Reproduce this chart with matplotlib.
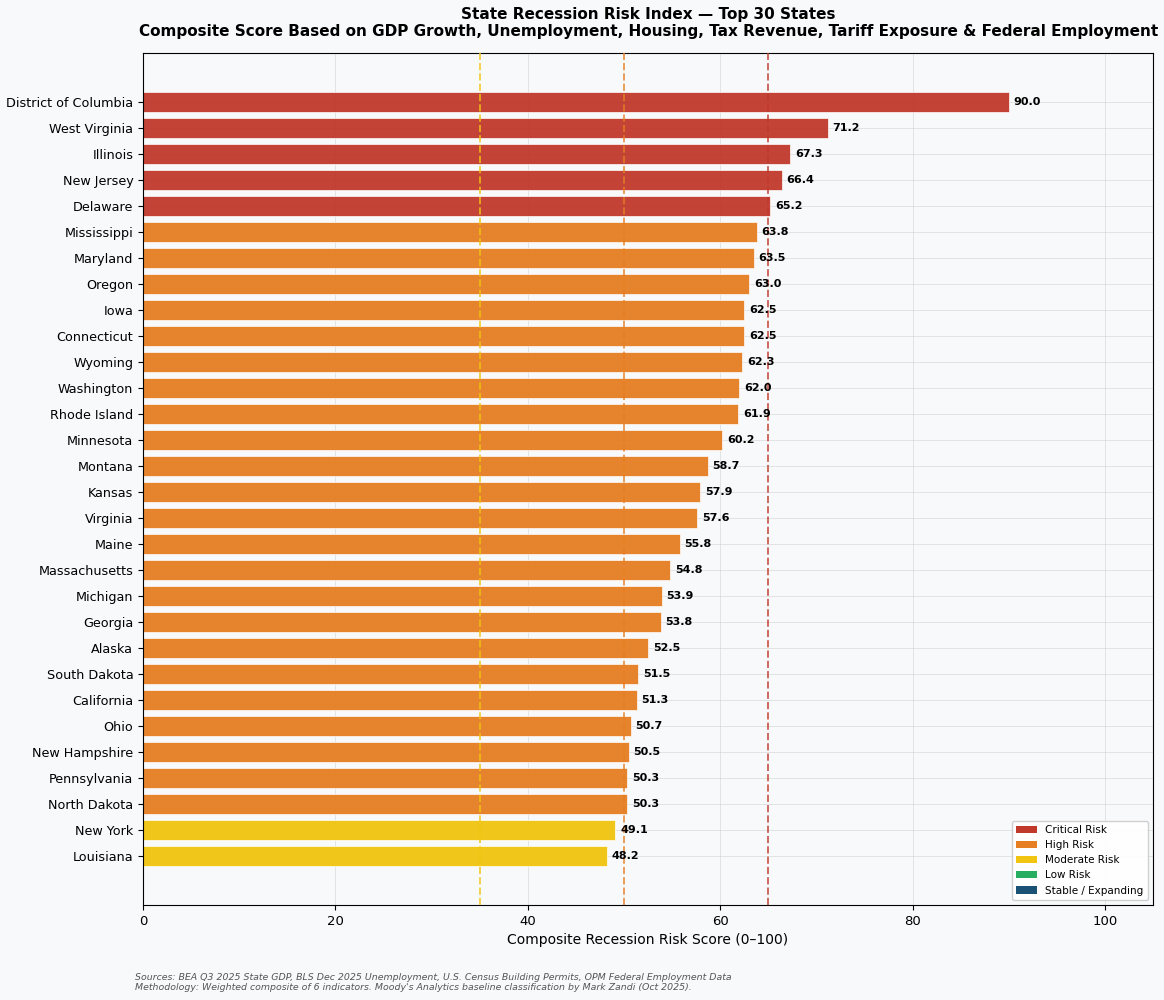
import matplotlib
matplotlib.use("Agg")
import matplotlib.pyplot as plt
from matplotlib.patches import Patch

# Data
states = ["District of Columbia", "West Virginia", "Illinois", "New Jersey", "Delaware",
          "Mississippi", "Maryland", "Oregon", "Iowa", "Connecticut", "Wyoming",
          "Washington", "Rhode Island", "Minnesota", "Montana", "Kansas", "Virginia",
          "Maine", "Massachusetts", "Michigan", "Georgia", "Alaska", "South Dakota",
          "California", "Ohio", "New Hampshire", "Pennsylvania", "North Dakota",
          "New York", "Louisiana"]
scores = [90.0, 71.2, 67.3, 66.4, 65.2, 63.8, 63.5, 63.0, 62.5, 62.5, 62.3, 62.0,
          61.9, 60.2, 58.7, 57.9, 57.6, 55.8, 54.8, 53.9, 53.8, 52.5, 51.5, 51.3,
          50.7, 50.5, 50.3, 50.3, 49.1, 48.2]
categories = ["Critical Risk", "High Risk", "Moderate Risk", "Low Risk", "Stable / Expanding"]
cat_colors = ["#c0392b", "#e67e22", "#f1c40f", "#27ae60", "#1a5276"]
thresholds = [35, 50, 65]
threshold_colors = ["#f1c40f", "#e67e22", "#c0392b"]


def risk_color(s):
    if s >= 65:
        return cat_colors[0]
    elif s >= 50:
        return cat_colors[1]
    elif s >= 35:
        return cat_colors[2]
    elif s >= 20:
        return cat_colors[3]
    return cat_colors[4]


bg = "#f8f9fa"
fig = plt.figure(figsize=(11.64, 10), dpi=100, facecolor=bg)
ax = fig.add_axes([0.1229, 0.095, 0.8677, 0.852])
ax.set_facecolor(bg)

ypos = list(range(len(states)))
bars = ax.barh(ypos, scores, height=0.75, color=[risk_color(s) for s in scores],
               edgecolor="white", linewidth=0.5, alpha=0.95, zorder=2)

for y, s in zip(ypos, scores):
    ax.text(s + 0.5, y, f"{s:.1f}", va="center", ha="left", fontsize=8,
            fontweight="bold", color="black", zorder=4)

for t, c in zip(thresholds, threshold_colors):
    ax.axvline(t, color=c, linestyle="--", linewidth=1.4, alpha=0.75, zorder=3)

ax.set_yticks(ypos)
ax.set_yticklabels(states, fontsize=9.2)
ax.set_ylim(30.88, -1.88)
ax.set_xlim(0, 105)
ax.tick_params(axis="x", labelsize=9.5)
ax.set_xlabel("Composite Recession Risk Score (0\u2013100)", fontsize=10)
ax.grid(True, color="#cccccc", linewidth=0.7, alpha=0.5, zorder=2.5)

handles = [Patch(facecolor=c, label=l) for c, l in zip(cat_colors, categories)]
ax.legend(handles=handles, loc="lower right", fontsize=7.5, framealpha=0.9)

fig.text(0.557, 0.977, "State Recession Risk Index \u2014 Top 30 States\n"
         "Composite Score Based on GDP Growth, Unemployment, Housing, Tax Revenue, Tariff Exposure & Federal Employment",
         ha="center", va="center", fontsize=10.95, fontweight="bold", linespacing=1.2)

fig.text(0.116, 0.008, "Sources: BEA Q3 2025 State GDP, BLS Dec 2025 Unemployment, U.S. Census Building Permits, OPM Federal Employment Data\n"
         "Methodology: Weighted composite of 6 indicators. Moody's Analytics baseline classification by Mark Zandi (Oct 2025).",
         ha="left", va="bottom", fontsize=6.75, style="italic", color="#555555")

fig.savefig("out.png", dpi=100, facecolor=bg)
